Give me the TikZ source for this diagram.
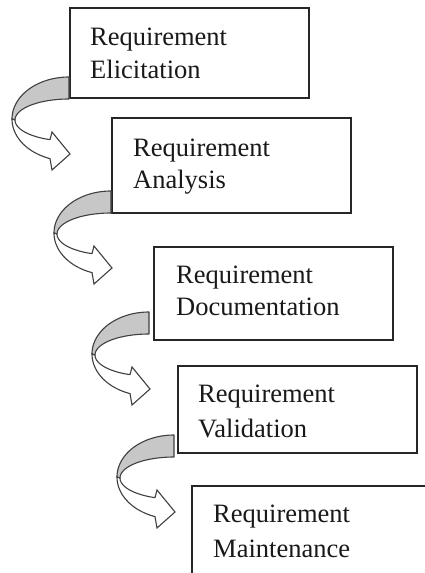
\documentclass[tikz,border=0pt]{standalone}
\usepackage{fontspec}
\setmainfont{Liberation Serif}
\begin{document}
\begin{tikzpicture}[x=1pt,y=-1pt,
  box/.style={draw=black!85, line width=1.3pt, fill=white, inner sep=0pt, outer sep=0pt, anchor=north west, minimum width=239pt},
  lbl/.style={anchor=base west, inner sep=0pt, font=\fontsize{26.5}{34}\selectfont, text=black!90},
  backpart/.style={fill=black!22, draw=black!75, line width=1.1pt, line join=round},
  frontpart/.style={fill=white, draw=black!75, line width=1.1pt, line join=miter}]
\clip (0,0) rectangle (425,573);
\fill[white] (0,0) rectangle (425,573);
\newcommand{\curvearrow}[1]{%
  \begin{scope}[shift={(#1)}]
    \path[backpart] plot[domain=90:180, samples=40] ({57*cos(\x)},{41-42*sin(\x)})
      -- plot[domain=0:90, samples=40] ({54*cos(180-\x)},{42-21*sin(180-\x)}) -- cycle;
    \path[frontpart] plot[domain=180:250.53, samples=40] ({57*cos(\x)},{41-42*sin(\x)})
      -- (-17,92) -- (1,76) -- (-17,54) -- (-19,61.7)
      -- plot[domain=0:69.4, samples=40] ({54*cos(249.4-\x)},{42-21*sin(249.4-\x)}) -- cycle;
  \end{scope}}
% boxes
\node[box, minimum height=90pt] (b1) at (70,8) {};
\node[box, minimum height=95pt] (b2) at (112,118) {};
\node[box, minimum height=93pt] (b3) at (154,247) {};
\node[box, minimum height=87pt] (b4) at (178,366) {};
\node[box, minimum height=100pt] (b5) at (192,486) {};
% labels
\node[lbl] (t1a) at (90,45) {Requirement};
\node[lbl] (t1b) at (90,78) {Elicitation};
\node[lbl] (t2a) at (133,156) {Requirement};
\node[lbl] (t2b) at (133,188) {Analysis};
\node[lbl] (t3a) at (176,283) {Requirement};
\node[lbl] (t3b) at (176,315) {Documentation};
\node[lbl] (t4a) at (198,402) {Requirement};
\node[lbl] (t4b) at (198,437) {Validation};
\node[lbl] (t5a) at (213,522) {Requirement};
\node[lbl] (t5b) at (213,557) {Maintenance};
% curved arrows
\coordinate (p1) at (69,78);
\coordinate (p2) at (111,192);
\coordinate (p3) at (149,313);
\coordinate (p4) at (174,436);
\curvearrow{p1}
\curvearrow{p2}
\curvearrow{p3}
\curvearrow{p4}
\end{tikzpicture}
\end{document}
